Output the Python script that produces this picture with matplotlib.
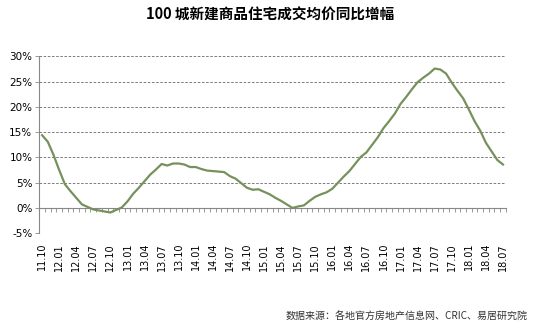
import numpy as np
import matplotlib
matplotlib.use('Agg')
import matplotlib.pyplot as plt
from matplotlib.ticker import FuncFormatter

plt.rcParams['font.family'] = ['DejaVu Sans', 'Noto Sans CJK SC']

# monthly yoy growth of new home prices, 100 cities, 2011.10 - 2018.07
months = []
for y in range(2011, 2019):
    for m in range(1, 13):
        if (y == 2011 and m < 10) or (y == 2018 and m > 7):
            continue
        months.append('%02d.%02d' % (y % 100, m))

yoy = [14.4, 13.1, 10.5, 7.5, 4.7, 3.3, 2.0, 0.7, 0.2, -0.3,
       -0.5, -0.7, -0.9, -0.4, 0.1, 1.3, 2.8, 4.0, 5.3, 6.6,
       7.6, 8.7, 8.4, 8.8, 8.8, 8.6, 8.1, 8.1, 7.7, 7.4,
       7.3, 7.2, 7.1, 6.3, 5.8, 4.9, 4.0, 3.6, 3.7, 3.2,
       2.7, 2.0, 1.4, 0.7, 0.0, 0.3, 0.5, 1.4, 2.2, 2.7,
       3.1, 3.8, 5.0, 6.2, 7.3, 8.7, 10.1, 11.0, 12.5, 14.0,
       15.8, 17.2, 18.7, 20.6, 22.0, 23.5, 24.9, 25.8, 26.6, 27.6,
       27.4, 26.6, 24.8, 23.2, 21.7, 19.5, 17.2, 15.3, 12.9, 11.2,
       9.5, 8.6]

yticks = [-5, 0, 5, 10, 15, 20, 25, 30]
title = '100 城新建商品住宅成交均价同比增幅'
source = '数据来源：各地官方房地产信息网、CRIC、易居研究院'

fig = plt.figure(figsize=(5.33, 3.28), dpi=100)
ax = fig.add_axes([0.0737, 0.289, 0.8753, 0.539])

x = np.arange(len(yoy))
ax.plot(x, yoy, color='#77905c', lw=1.6, solid_joinstyle='round', zorder=3)

ax.set_xlim(-0.5, len(yoy) - 0.5)
ax.set_ylim(-5, 30)
ax.set_yticks(yticks)
ax.yaxis.set_major_formatter(FuncFormatter(lambda v, p: '%d%%' % v))
ax.tick_params(axis='y', length=3, width=0.6, color='#888888', labelsize=7.5, pad=2)
for v in yticks:
    if v != 0:
        ax.axhline(v, color='#666666', lw=0.6, ls=(0, (3, 2)), zorder=1)

# category axis at 0%
ax.spines['bottom'].set_position(('data', 0))
ax.spines['bottom'].set_color('#888888')
ax.spines['left'].set_color('#888888')
ax.spines['top'].set_visible(False)
ax.spines['right'].set_visible(False)
ax.set_xticks(np.arange(len(yoy) + 1) - 0.5)
ax.set_xticklabels([])
ax.tick_params(axis='x', length=3, width=0.6, color='#888888')

sec = ax.secondary_xaxis('bottom')
sec.spines['bottom'].set_visible(False)
sec.set_xticks(x[::3])
sec.set_xticklabels(months[::3], rotation=90, fontsize=7)
sec.tick_params(axis='x', length=0, pad=7)

fig.text(0.506, 0.955, title, ha='center', va='center', fontsize=10.5,
         fontweight='bold', family=['Noto Sans CJK SC', 'DejaVu Sans'])
fig.text(0.99, 0.033, source, ha='right', va='center', fontsize=7.2,
         color='#333333', family=['Noto Sans CJK SC', 'DejaVu Sans'])

fig.savefig('out.png', dpi=100)
